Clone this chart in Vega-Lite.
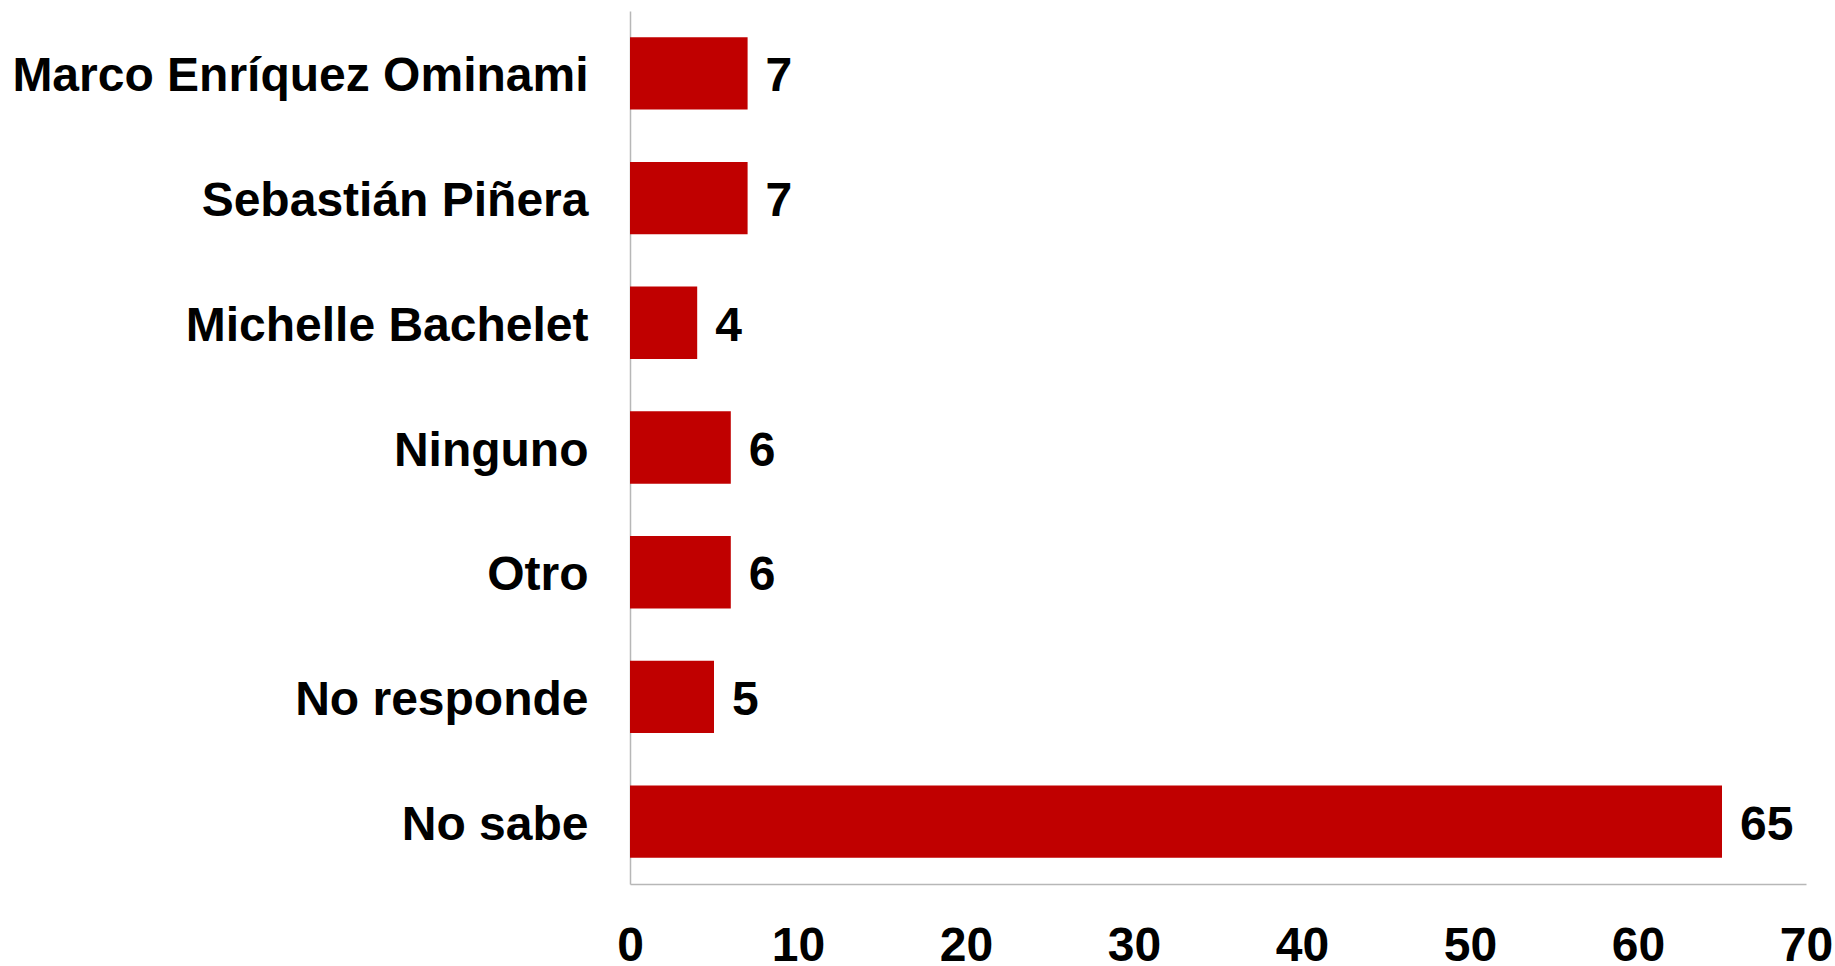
{
  "$schema": "https://vega.github.io/schema/vega-lite/v6.json",
  "width": 1176,
  "height": 873,
  "autosize": {"type": "none"},
  "padding": {"left": 630, "top": 11, "right": 29, "bottom": 82},
  "background": "white",
  "data": {"values": [
    {"cat": "Marco Enríquez Ominami", "v": 7},
    {"cat": "Sebastián Piñera", "v": 7},
    {"cat": "Michelle Bachelet", "v": 4},
    {"cat": "Ninguno", "v": 6},
    {"cat": "Otro", "v": 6},
    {"cat": "No responde", "v": 5},
    {"cat": "No sabe", "v": 65}
  ]},
  "encoding": {
    "y": {"field": "cat", "type": "nominal", "sort": null,
      "scale": {"paddingInner": 0.42, "paddingOuter": 0.21},
      "axis": {"title": null, "ticks": false, "domainColor": "#B7B7B7", "domainWidth": 1.5,
        "labelFont": "Liberation Sans", "labelFontWeight": "bold", "labelFontSize": 48,
        "labelColor": "#000000", "labelPadding": 42, "labelLimit": 700, "labelOffset": 4}},
    "x": {"field": "v", "type": "quantitative",
      "scale": {"domain": [0, 70], "nice": false},
      "axis": {"title": null, "ticks": false, "grid": false, "values": [0,10,20,30,40,50,60,70],
        "domainColor": "#B7B7B7", "domainWidth": 1.5,
        "labelFont": "Liberation Sans", "labelFontWeight": "bold", "labelFontSize": 48,
        "labelColor": "#000000", "labelPadding": 38, "labelFlush": false}}
  },
  "layer": [
    {"mark": {"type": "bar", "color": "#C00000"}},
    {"mark": {"type": "text", "align": "left", "baseline": "middle", "dx": 18, "dy": 4,
      "font": "Liberation Sans", "fontWeight": "bold", "fontSize": 48, "color": "#000000"},
     "encoding": {"text": {"field": "v", "type": "quantitative"}}}
  ],
  "config": {"view": {"stroke": null}}
}
